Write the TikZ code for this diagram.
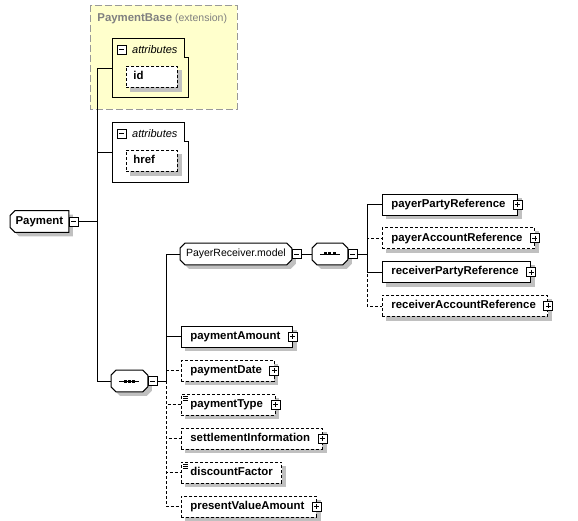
\documentclass[tikz,border=0pt]{standalone}
\usepackage{fontspec}
\setmainfont{Liberation Sans}
\usetikzlibrary{positioning}

\definecolor{shadowgray}{RGB}{192,192,192}
\definecolor{baseyellow}{RGB}{255,255,204}
\definecolor{basegray}{RGB}{128,128,128}

\pgfdeclarelayer{background}
\pgfsetlayers{background,main}

\newcommand{\boldtxt}{\fontsize{11.4}{13}\selectfont\bfseries}
\newcommand{\plaintxt}{\fontsize{10.5}{12}\selectfont}
% octagon round a node: node, left cut, right cut, x offset, y offset (down), options
\newcommand{\octfill}[6]{%
  \path[line width=1pt, #6] ([shift={(#2+#4,-#5)}]#1.north west) -- ([shift={(-#3+#4,-#5)}]#1.north east)
    -- ([shift={(#4,-#3-#5)}]#1.north east) -- ([shift={(#4,#3-#5)}]#1.south east)
    -- ([shift={(-#3+#4,-#5)}]#1.south east) -- ([shift={(#2+#4,-#5)}]#1.south west)
    -- ([shift={(#4,#2-#5)}]#1.south west) -- ([shift={(#4,-#2-#5)}]#1.north west) -- cycle;}

\begin{document}
\begin{tikzpicture}[x=1pt, y=1pt, line width=0.8pt, node distance=12pt,
  elem/.style={draw, fill=white, font=\boldtxt, minimum height=21pt, inner xsep=9pt, inner ysep=0pt, text height=8.2pt, text depth=2.4pt},
  opt/.style={dash pattern=on 3pt off 2pt},
  haskids/.style={execute at end node={\hspace{3pt}}},
  simpletype/.style={path picture={\draw[solid, line width=0.6pt]
      ([shift={(2,-2.5)}]path picture bounding box.north west) -- ++(5,0)
      ([shift={(2,-4.5)}]path picture bounding box.north west) -- ++(5,0)
      ([shift={(2,-6.5)}]path picture bounding box.north west) -- ++(5,0);}},
  model/.style={rectangle, minimum height=21pt, inner sep=0pt, font=\plaintxt},
  minusicon/.style={draw, fill=white, minimum size=9pt, inner sep=0pt, anchor=west,
      path picture={\draw ([xshift=2pt]path picture bounding box.west) -- ([xshift=-2pt]path picture bounding box.east);}},
  plusicon/.style={draw, fill=white, minimum size=9pt, inner sep=0pt,
      path picture={\draw ([xshift=2pt]path picture bounding box.west) -- ([xshift=-2pt]path picture bounding box.east);
        \draw ([yshift=-2pt]path picture bounding box.north) -- ([yshift=2pt]path picture bounding box.south);}},
  attrlbl/.style={font=\fontsize{11}{13}\selectfont\itshape, inner sep=0pt},
  attrnode/.style={draw, fill=white, opt, font=\boldtxt, minimum height=21pt, text width=37pt, align=left, inner xsep=7pt, inner ysep=0pt, text height=8.2pt, text depth=2.4pt, anchor=north west}]
\useasboundingbox (0,0) rectangle (578,-521);

% extension base
\node[anchor=west, inner sep=0pt, text=basegray, font=\plaintxt] (baselbl) at (97,-19) {{\boldtxt PaymentBase} (extension)};

% attribute groups
\node[minimum width=76pt, minimum height=59pt, anchor=north west, inner sep=0pt] (attrA) at (112,-38) {};
\draw (attrA.north west) -- ([xshift=-4pt]attrA.north east) -- ++(0,-19) -| (attrA.south east) -- (attrA.south west) -- cycle;
\node[minusicon] (attrAmin) at (116.5,-49.5) {};
\node[attrlbl, right=5.5pt of attrAmin] (attrAlbl) {attributes};
\node[attrnode] (aid) at (126,-66) {id};

\node[minimum width=76pt, minimum height=60pt, anchor=north west, inner sep=0pt] (attrB) at (112,-122) {};
\draw (attrB.north west) -- ([xshift=-4pt]attrB.north east) -- ++(0,-19) -| (attrB.south east) -- (attrB.south west) -- cycle;
\node[minusicon] (attrBmin) at (116.5,-133.5) {};
\node[attrlbl, right=5.5pt of attrBmin] (attrBlbl) {attributes};
\node[attrnode] (ahref) at (126,-150) {href};

% root
\node[model, font=\boldtxt, minimum width=58pt, anchor=west] (pay) at (10,-221.5) {Payment};
\node[minusicon] (paymin) at (pay.east) {};
\coordinate (jp) at (97,-221.5);

% sequence of Payment
\node[model, minimum width=36pt, anchor=west] (seqA) at (111,-381) {};
\node[minusicon] (seqAmin) at (seqA.east) {};
\coordinate (js) at (166,-381);

\node[model, minimum width=111pt, anchor=west] (prm) at (180,-254) {PayerReceiver.model};
\node[minusicon] (prmmin) at (prm.east) {};
\node[model, minimum width=35pt, anchor=west] (seqB) at (312,-254) {};
\node[minusicon] (seqBmin) at (seqB.east) {};
\coordinate (jm) at (367,-254);

% payer / receiver references
\node[elem, haskids, anchor=west] (ppr) at (382,-204.5) {payerPartyReference};
\node[elem, haskids, opt, below=of ppr.south west, anchor=north west] (par) {payerAccountReference};
\node[elem, haskids, below=of par.south west, anchor=north west] (rpr) {receiverPartyReference};
\node[elem, haskids, opt, below=of rpr.south west, anchor=north west] (rar) {receiverAccountReference};

% payment elements
\node[elem, haskids, anchor=west] (pamt) at (181,-336.5) {paymentAmount};
\node[elem, haskids, opt, below=12.2pt of pamt.south west, anchor=north west] (pdate) {paymentDate};
\node[elem, haskids, opt, simpletype, below=12.2pt of pdate.south west, anchor=north west] (ptype) {paymentType};
\node[elem, haskids, opt, below=12.2pt of ptype.south west, anchor=north west] (sinfo) {settlementInformation};
\node[elem, opt, simpletype, below=12.2pt of sinfo.south west, anchor=north west] (dfac) {discountFactor};
\node[elem, haskids, opt, below=12.2pt of dfac.south west, anchor=north west] (pval) {presentValueAmount};

\node[plusicon] (pprplus) at (ppr.east) {};
\node[plusicon] (parplus) at (par.east) {};
\node[plusicon] (rprplus) at (rpr.east) {};
\node[plusicon] (rarplus) at (rar.east) {};
\node[plusicon] (pamtplus) at (pamt.east) {};
\node[plusicon] (pdateplus) at (pdate.east) {};
\node[plusicon] (ptypeplus) at (ptype.east) {};
\node[plusicon] (sinfoplus) at (sinfo.east) {};
\node[plusicon] (pvalplus) at (pval.east) {};

% sequence marks
\foreach \s in {seqA,seqB} {
  \draw[line width=0.9pt] ([xshift=-10pt]\s.center) -- ([xshift=10pt]\s.center);
  \foreach \dx in {-4.2,0,4.2}
    \fill ([shift={(\dx-1.5,-1.5)}]\s.center) rectangle ++(3,3);
}

% base, shadows and compositor outlines
\begin{pgfonlayer}{background}
\draw[line width=0.8pt, draw=basegray!80, fill=baseyellow, dash pattern=on 7pt off 3pt] (90,-5) rectangle (237,-109);
\foreach \n in {aid,ahref,ppr,par,rpr,rar,pamt,pdate,ptype,sinfo,dfac,pval}
  \fill[shadowgray] ([shift={(4,-4)}]\n.south west) rectangle ([shift={(4,-4)}]\n.north east);
\octfill{pay}{5}{0}{4}{4}{fill=shadowgray}
\octfill{seqA}{5}{5}{4}{4}{fill=shadowgray}
\octfill{prm}{5}{5}{4}{4}{fill=shadowgray}
\octfill{seqB}{5}{5}{4}{4}{fill=shadowgray}
\octfill{pay}{5}{0}{0}{0}{draw=black, fill=white}
\octfill{seqA}{5}{5}{0}{0}{draw=black, fill=white}
\octfill{prm}{5}{5}{0}{0}{draw=black, fill=white}
\octfill{seqB}{5}{5}{0}{0}{draw=black, fill=white}
\end{pgfonlayer}

% connectors
\draw (paymin.east) -- (jp);
\draw (attrA.west) -| (jp);
\draw (attrB.west) -| (jp);
\draw (jp) |- (seqA.west);
\draw (seqAmin.east) -- (js);
\draw (js) |- (prm.west);
\draw (js) |- (pamt.west);
\draw[opt] (js) |- (pdate.west);
\draw[opt] (js) |- (ptype.west);
\draw[opt] (js) |- (sinfo.west);
\draw[opt] (js) |- (dfac.west);
\draw[opt] (js) |- (pval.west);
\draw (prmmin.east) -- (seqB.west);
\draw (seqBmin.east) -- (jm);
\draw (jm) |- (ppr.west);
\draw (jm) |- (rpr.west);
\draw[opt] (jm) |- (par.west);
\draw[opt] (jm) |- (rar.west);
\end{tikzpicture}
\end{document}
